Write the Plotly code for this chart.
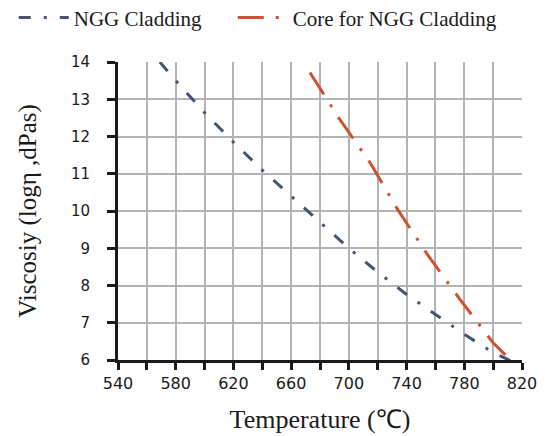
import plotly.graph_objects as go

# NGG Cladding (temperature °C, log viscosity)
ngg_temp = [569, 580, 600, 620, 640, 660, 680, 700, 720, 740, 760, 780, 800, 812]
ngg_visc = [14.0, 13.5, 12.64, 11.85, 11.1, 10.41, 9.7, 9.0, 8.36, 7.76, 7.22, 6.69, 6.2, 5.98]

# Core for NGG Cladding
core_temp = [673, 693, 715, 734, 755, 777, 800, 816]
core_visc = [13.72, 12.5, 11.28, 10.03, 8.8, 7.63, 6.46, 5.85]

series_names = ["NGG Cladding", "Core for NGG Cladding"]

x_tickvals = list(range(540, 821, 20))
x_ticktext = [str(v) if (v - 540) % 40 == 0 else "" for v in x_tickvals]
y_tickvals = list(range(6, 15))

blue = "#46546f"
orange = "#cf5230"
pad = "\u00a0" * 5

fig = go.Figure()
fig.add_trace(go.Scatter(
    x=ngg_temp, y=ngg_visc, mode="lines", name=series_names[0] + pad,
    line=dict(color=blue, width=3, dash="12px,13px,3px,13px"),
))
fig.add_trace(go.Scatter(
    x=core_temp, y=core_visc, mode="lines", name=series_names[1],
    line=dict(color=orange, width=3, dash="26px,12px,3px,12px"),
))

fig.update_layout(
    width=546, height=428,
    margin=dict(l=110, r=32, t=54, b=76, autoexpand=False),
    paper_bgcolor="white", plot_bgcolor="white",
    legend=dict(orientation="h", x=-0.258, y=1.148, xref="paper", yref="paper",
                xanchor="left", yanchor="middle",
                font=dict(family="Liberation Serif", size=21, color="#1a1a1a"),
                itemwidth=50, tracegroupgap=0,
                bgcolor="rgba(0,0,0,0)"),
    showlegend=True,
)
fig.update_xaxes(
    range=[540, 820], tickvals=x_tickvals, ticktext=x_ticktext,
    showgrid=True, gridcolor="#b3b3b3", gridwidth=1.5,
    showline=True, linecolor="#1a1a1a", linewidth=3,
    ticks="outside", ticklen=7, tickwidth=3, tickcolor="#1a1a1a",
    tickfont=dict(family="DejaVu Sans", size=16, color="#1a1a1a"),
    title=dict(text="Temperature (℃)", font=dict(family="Liberation Serif", size=26, color="#1a1a1a"), standoff=18),
    zeroline=False,
)
fig.update_yaxes(
    range=[6, 14], tickvals=y_tickvals,
    showgrid=True, gridcolor="#b3b3b3", gridwidth=1.5,
    showline=True, linecolor="#1a1a1a", linewidth=3,
    ticks="outside", ticklen=8, tickwidth=3, tickcolor="#1a1a1a",
    ticklabelstandoff=14,
    tickfont=dict(family="DejaVu Sans", size=15, color="#1a1a1a"),
    title=dict(text="Viscosiy (logη ,dPas)", font=dict(family="Liberation Serif", size=25, color="#1a1a1a"), standoff=28),
    zeroline=False,
)

fig.write_html("out.html")
